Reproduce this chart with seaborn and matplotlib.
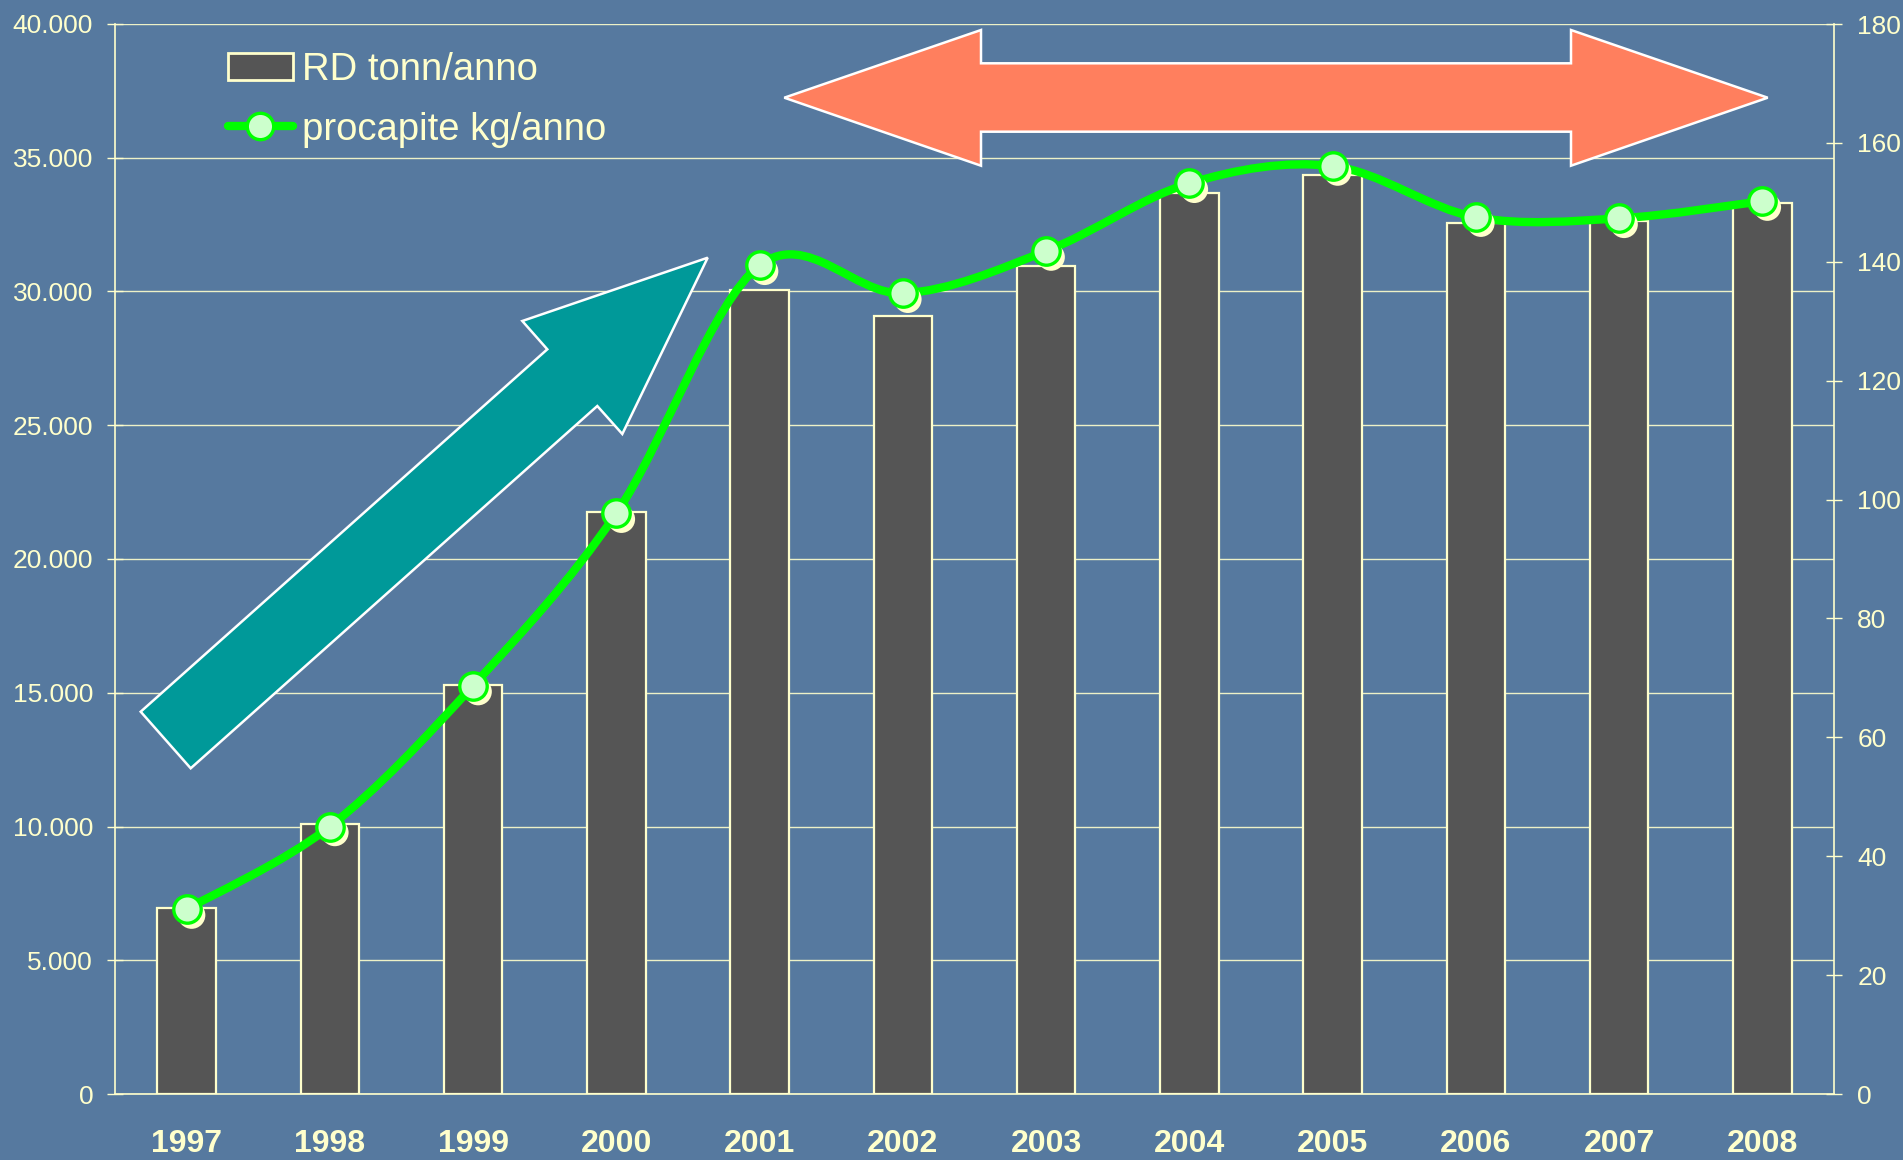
import numpy as np
import pandas as pd
import matplotlib
matplotlib.use("Agg")
import matplotlib.pyplot as plt
import seaborn as sns
from matplotlib.path import Path
from matplotlib.patches import PathPatch, Polygon, Patch
from matplotlib.lines import Line2D
import matplotlib.transforms as mtransforms
from matplotlib.ticker import FuncFormatter, MultipleLocator, FixedLocator

# ---------------- data ----------------
years = ["1997", "1998", "1999", "2000", "2001", "2002",
         "2003", "2004", "2005", "2006", "2007", "2008"]
rd_tonn = [6950, 10100, 15300, 21750, 30050, 29100,
           30950, 33700, 34350, 32550, 32650, 33300]
procapite = [31.1, 45.0, 68.7, 97.7, 139.4, 134.7,
             141.8, 153.2, 156.1, 147.5, 147.3, 150.2]
label_bars = "RD tonn/anno"
label_line = "procapite kg/anno"

# ---------------- style ----------------
sns.set_theme(style="white")
plt.rcParams["font.family"] = ["Liberation Sans", "DejaVu Sans"]

BG = "#56799f"
CREAM = "#ffffcc"
BAR = "#555555"
GREEN = "#00ff00"
MFACE = "#ccffcc"

W, H = 1903, 1160
fig = plt.figure(figsize=(W / 100, H / 100), dpi=100, facecolor=BG)
L, R, T, B = 115, 1834, 24, 1094
ax = fig.add_axes([L / W, 1 - B / H, (R - L) / W, (B - T) / H])
ax.set_facecolor("none")

df = pd.DataFrame({"year": years, "rd": rd_tonn, "pc": procapite})

sns.barplot(data=df, x="year", y="rd", color=BAR, width=0.41,
            edgecolor=CREAM, linewidth=1.6, saturation=1, ax=ax, zorder=3)

ax.set_xlim(-0.5, 11.5)
ax.set_ylim(0, 40000)
ax.yaxis.set_major_locator(MultipleLocator(5000))
ax.yaxis.set_major_formatter(FuncFormatter(lambda v, p: f"{int(v):,}".replace(",", ".")))
ax.set_axisbelow(True)
ax.yaxis.grid(True, color=CREAM, lw=1.0, alpha=0.9)
ax.xaxis.grid(False)
ax.set_xlabel("")
ax.set_ylabel("")

for s in ["top", "right"]:
    ax.spines[s].set_visible(False)
for s in ["left", "bottom"]:
    ax.spines[s].set_color(CREAM)
    ax.spines[s].set_linewidth(1.2)

ax.tick_params(axis="y", which="major", colors=CREAM, labelcolor=CREAM,
               labelsize=19, direction="inout", length=11.5, width=1.0, pad=10)
ax.tick_params(axis="x", which="major", length=0, labelcolor=CREAM,
               labelsize=23, pad=25)
for lab in ax.get_xticklabels():
    lab.set_fontweight("bold")
ax.xaxis.set_minor_locator(FixedLocator(np.arange(-0.5, 12, 1.0)))
ax.tick_params(axis="x", which="minor", colors=CREAM, direction="inout",
               length=14, width=1.0)

# ---------------- right axis ----------------
ax2 = ax.twinx()
ax2.set_ylim(0, 180)
ax2.yaxis.set_major_locator(MultipleLocator(20))
for s in ["top", "left", "bottom"]:
    ax2.spines[s].set_visible(False)
ax2.spines["right"].set_color(CREAM)
ax2.spines["right"].set_linewidth(1.2)
ax2.tick_params(axis="y", colors=CREAM, labelcolor=CREAM, labelsize=19,
                direction="inout", length=11.5, width=1.0, pad=11)
ax2.grid(False)

# ---------------- decorative arrows (figure pixel coords) ----------------
def fig_pts(pts):
    return [(x / W, 1 - y / H) for x, y in pts]

teal = [(140.7, 711.7), (547.3, 349.3), (522.3, 321.0), (707.7, 257.7),
        (622.3, 434.0), (597.3, 406.0), (190.7, 768.3)]
ax2.add_patch(Polygon(fig_pts(teal), closed=True, transform=fig.transFigure,
                      facecolor="#009999", edgecolor="white", lw=1.8,
                      zorder=1, clip_on=False))
red = [(784.3, 97.7), (981, 30), (981, 63.3), (1571, 63.3), (1571, 30),
       (1767.7, 97.7), (1571, 165.7), (1571, 131.7), (981, 131.7), (981, 165.7)]
ax2.add_patch(Polygon(fig_pts(red), closed=True, transform=fig.transFigure,
                      facecolor="#ff7f5e", edgecolor="white", lw=1.8,
                      zorder=1, clip_on=False))

# ---------------- smoothed line (Bezier through the data points) ----------------
xs = np.arange(len(procapite), dtype=float)
ys = np.asarray(procapite, dtype=float)
P = np.column_stack([xs, ys])
verts = [tuple(P[0])]
codes = [Path.MOVETO]
n = len(P)
for i in range(n - 1):
    p0 = P[max(i - 1, 0)]
    p1 = P[i]
    p2 = P[i + 1]
    p3 = P[min(i + 2, n - 1)]
    c1 = p1 + (p2 - p0) / 6.0
    c2 = p2 - (p3 - p1) / 6.0
    verts += [tuple(c1), tuple(c2), tuple(p2)]
    codes += [Path.CURVE4] * 3
ax2.add_patch(PathPatch(Path(verts, codes), facecolor="none", edgecolor=GREEN,
                        lw=6, zorder=4, capstyle="round", joinstyle="round"))

# marker shadows
shadow_tr = mtransforms.offset_copy(ax2.transData, fig=fig, x=5, y=-6, units="dots")
ax2.scatter(xs, ys, s=390, color=CREAM, edgecolor="none", transform=shadow_tr, zorder=4.5)
sns.scatterplot(x=xs, y=ys, s=390, color=MFACE, edgecolor=GREEN, linewidth=2.4,
                ax=ax2, zorder=5, legend=False)
ax2.set_ylabel("")

# ---------------- legend ----------------
h1 = Patch(facecolor=BAR, edgecolor=CREAM, lw=2)
h2 = Line2D([], [], color=GREEN, lw=6, marker="o", ms=19, mfc=MFACE, mec=GREEN, mew=2.4)
fig.legend([h1, h2], [label_bars, label_line], loc="upper left",
           bbox_to_anchor=(228 / W, 1 - 52 / H), bbox_transform=fig.transFigure,
           frameon=False, fontsize=27.5, labelcolor=CREAM, handlelength=1.7,
           handletextpad=0.25, labelspacing=0.62, borderpad=0, borderaxespad=0)

fig.savefig("out.png", dpi=100, facecolor=BG)
